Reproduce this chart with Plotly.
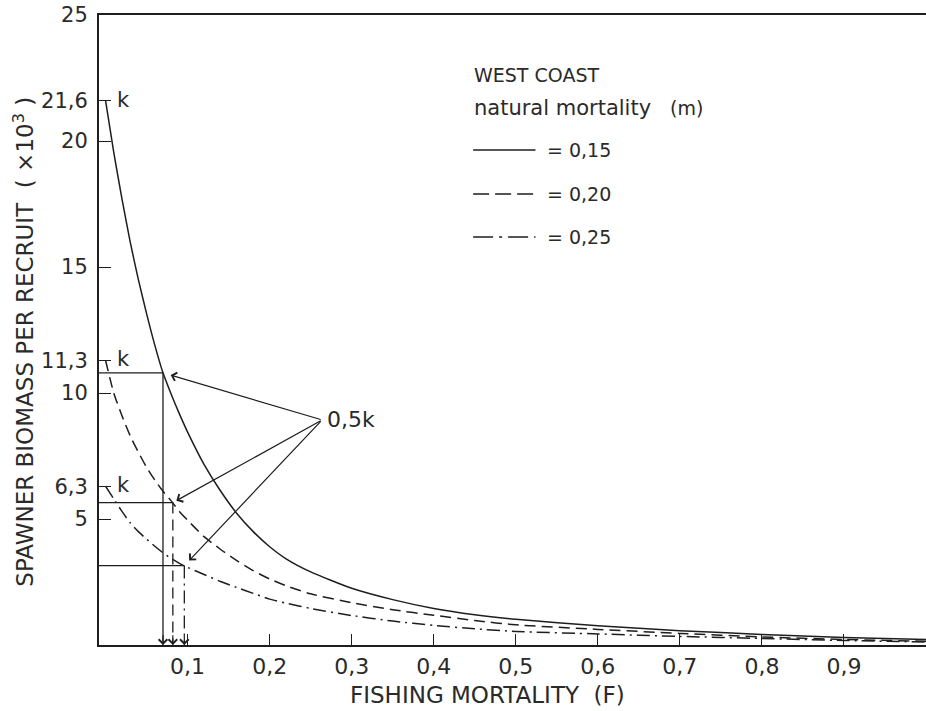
import plotly.graph_objects as go

# Fishing mortality grid (F) and spawner biomass per recruit (x10^3) for three natural mortalities
fishing_mortality = [0, 0.01, 0.02, 0.03, 0.04, 0.05, 0.06, 0.07, 0.08, 0.09, 0.1,
                     0.12, 0.14, 0.16, 0.18, 0.2, 0.22, 0.25, 0.3, 0.35, 0.4,
                     0.45, 0.5, 0.6, 0.7, 0.8, 0.9, 1.0]
sbr_m015 = [21.6, 19.55, 17.7, 16.0, 14.5, 13.15, 11.9, 10.8, 9.95, 9.17, 8.45,
            7.17, 6.12, 5.22, 4.5, 3.9, 3.42, 2.9, 2.25, 1.8, 1.45,
            1.2, 1.02, 0.76, 0.57, 0.42, 0.3, 0.22]
sbr_m020 = [11.3, 10.0, 9.1, 8.3, 7.65, 7.05, 6.55, 6.1, 5.72, 5.3, 4.95,
            4.3, 3.8, 3.35, 2.95, 2.62, 2.35, 2.03, 1.68, 1.4, 1.18,
            0.97, 0.8, 0.62, 0.46, 0.32, 0.22, 0.15]
sbr_m025 = [6.3, 5.8, 5.3, 4.85, 4.5, 4.2, 3.92, 3.66, 3.43, 3.24, 3.08,
            2.8, 2.52, 2.28, 2.05, 1.82, 1.66, 1.45, 1.17, 0.95, 0.78,
            0.64, 0.54, 0.44, 0.34, 0.26, 0.18, 0.12]

# Unfished level k for each curve and the F at which biomass falls to 0.5k
m_labels = ["= 0,15", "= 0,20", "= 0,25"]
k_values = [21.6, 11.3, 6.3]
k_labels = ["21,6", "11,3", "6,3"]
f_half = [0.070, 0.082, 0.096]

# Axis ticks
x_ticks = [0.1, 0.2, 0.3, 0.4, 0.5, 0.6, 0.7, 0.8, 0.9]
x_tick_text = ["0,1", "0,2", "0,3", "0,4", "0,5", "0,6", "0,7", "0,8", "0,9"]
y_ticks = [5, 10, 15, 20, 25]
y_tick_text = ["5", "10", "15", "20", "25"]

# Position of the "0,5k" pointer label
half_k_anchor = (0.264, 8.93)

INK = "#1e1e1e"
TEXT = "#2a2a2a"
FONT = "'DejaVu Sans', Verdana, sans-serif"
FS = 19        # legend text
FS_AX = 22     # tick labels and markers
FS_TITLE = 23  # axis titles
X_MIN = -0.008

dashes = ["solid", "11px,6px", "13px,5px,2px,5px"]
legend_dashes = ["solid", "16px,6px", "20px,6px,3px,6px"]
series = [sbr_m015, sbr_m020, sbr_m025]

fig = go.Figure()

for vals, dash, name in zip(series, dashes, m_labels):
    fig.add_trace(go.Scatter(
        x=fishing_mortality, y=vals, mode="lines", name=name,
        line=dict(color=INK, width=1.5, dash=dash, shape="spline", smoothing=0.6),
        showlegend=False, hoverinfo="skip",
    ))

# Reference lines: horizontal from the axis to 0.5k, then down to the F axis
for k, fh, dash in zip(k_values, f_half, dashes):
    half = 0.5 * k
    fig.add_trace(go.Scatter(
        x=[X_MIN, fh], y=[half, half], mode="lines",
        line=dict(color=INK, width=1.3), showlegend=False, hoverinfo="skip",
    ))
    fig.add_trace(go.Scatter(
        x=[fh, fh], y=[half, 0], mode="lines",
        line=dict(color=INK, width=1.3, dash=dash), showlegend=False, hoverinfo="skip",
    ))

annotations = []

# Down arrows at the foot of each reference line
for fh in f_half:
    annotations.append(dict(
        x=fh, y=0, ax=fh, ay=0.45, xref="x", yref="y", axref="x", ayref="y",
        text="", showarrow=True, arrowhead=4, arrowsize=1.4, arrowwidth=1.2,
        arrowcolor=INK,
    ))

# Pointers from the 0,5k label to each 0.5k crossing
stand = [8, 4, 7]
for k, fh, s in zip(k_values, f_half, stand):
    annotations.append(dict(
        x=fh, y=0.5 * k, ax=half_k_anchor[0], ay=half_k_anchor[1],
        xref="x", yref="y", axref="x", ayref="y",
        text="", showarrow=True, arrowhead=4, arrowsize=1.4, arrowwidth=1.2,
        arrowcolor=INK, standoff=s,
    ))

annotations.append(dict(
    x=half_k_anchor[0], y=half_k_anchor[1], xref="x", yref="y",
    text="0,5k", showarrow=False, xanchor="left", yanchor="middle", xshift=3,
    font=dict(family=FONT, size=FS_AX, color=TEXT),
))

# "k" markers beside the unfished levels
for k in k_values:
    annotations.append(dict(
        x=0.011, y=k, xref="x", yref="y", text="k", showarrow=False,
        xanchor="left", yanchor="middle", yshift=1,
        font=dict(family=FONT, size=FS_AX - 1, color=TEXT),
    ))

# Legend block
legend_x0, legend_x1, legend_tx = 0.448, 0.524, 0.536
annotations.append(dict(
    x=0.447, y=22.62, xref="x", yref="y", text="WEST COAST", showarrow=False,
    xanchor="left", yanchor="middle", font=dict(family=FONT, size=FS, color=TEXT),
))
annotations.append(dict(
    x=0.447, y=21.31, xref="x", yref="y", text="natural mortality", showarrow=False,
    xanchor="left", yanchor="middle", font=dict(family=FONT, size=FS + 2, color=TEXT),
))
annotations.append(dict(
    x=0.686, y=21.31, xref="x", yref="y", text="(m)", showarrow=False,
    xanchor="left", yanchor="middle", font=dict(family=FONT, size=FS, color=TEXT),
))
legend_rows = [19.64, 17.9, 16.19]
shapes = []
for row_y, dash, name in zip(legend_rows, legend_dashes, m_labels):
    shapes.append(dict(
        type="line", xref="x", yref="y", x0=legend_x0, x1=legend_x1, y0=row_y, y1=row_y,
        line=dict(color=INK, width=1.5, dash=dash),
    ))
    annotations.append(dict(
        x=legend_tx, y=row_y, xref="x", yref="y", text=name, showarrow=False,
        xanchor="left", yanchor="middle", font=dict(family=FONT, size=FS, color=TEXT),
    ))

# Axis titles
annotations.append(dict(
    x=0.470, y=-0.079, xref="paper", yref="paper", text="FISHING MORTALITY  (F)",
    showarrow=False, xanchor="center", yanchor="middle",
    font=dict(family=FONT, size=FS_TITLE, color=TEXT),
))
annotations.append(dict(
    x=-0.091, y=0.481, xref="paper", yref="paper",
    text="SPAWNER BIOMASS PER RECRUIT  ( ×10<sup>3</sup> )",
    showarrow=False, xanchor="center", yanchor="middle", textangle=-90,
    font=dict(family=FONT, size=FS_TITLE, color=TEXT),
))

all_y_ticks = sorted(y_ticks + k_values)
label_map = dict(zip(y_ticks, y_tick_text))
label_map.update(dict(zip(k_values, k_labels)))

fig.update_layout(
    width=926, height=711,
    margin=dict(l=99, r=0, t=15, b=66),
    paper_bgcolor="white", plot_bgcolor="white",
    font=dict(family=FONT, size=FS_AX, color=TEXT),
    showlegend=False,
    annotations=annotations,
    shapes=shapes,
    xaxis=dict(
        range=[X_MIN, 1.0], showgrid=False, zeroline=False,
        showline=True, linecolor=INK, linewidth=2, mirror=True,
        ticks="inside", ticklen=11, tickwidth=1.3, tickcolor=INK,
        tickvals=x_ticks, ticktext=x_tick_text, ticklabelstandoff=1,
        tickfont=dict(family=FONT, size=FS_AX, color=TEXT),
    ),
    yaxis=dict(
        range=[0, 25], showgrid=False, zeroline=False,
        showline=True, linecolor=INK, linewidth=2,
        ticks="inside", ticklen=12, tickwidth=1.3, tickcolor=INK,
        tickvals=all_y_ticks, ticktext=[label_map[v] for v in all_y_ticks],
        ticklabelstandoff=5,
        tickfont=dict(family=FONT, size=FS_AX - 1, color=TEXT),
    ),
)

fig.write_html("out.html")
